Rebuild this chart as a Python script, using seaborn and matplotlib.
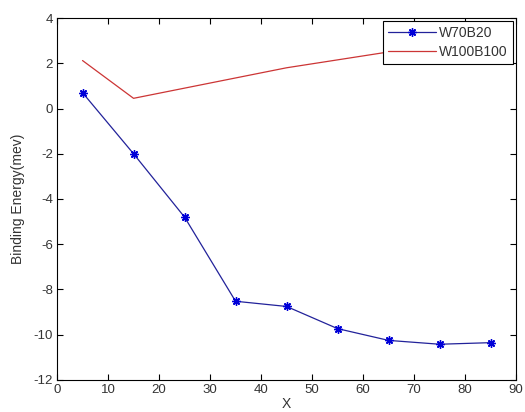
import matplotlib
matplotlib.use("Agg")
import matplotlib.pyplot as plt
import seaborn as sns
import pandas as pd

x_vals = [5, 15, 25, 35, 45, 55, 65, 75, 85]
w70b20 = [0.7, -2.0, -4.8, -8.52, -8.75, -9.73, -10.25, -10.42, -10.35]
w100b100 = [2.12, 0.45, 0.9, 1.35, 1.8, 2.15, 2.5, 2.8, 3.1]
x_ticks = [0, 10, 20, 30, 40, 50, 60, 70, 80, 90]
y_ticks = [-12, -10, -8, -6, -4, -2, 0, 2, 4]

sns.set_theme(style="white")
plt.rcParams['font.family'] = ['Liberation Sans', 'DejaVu Sans']
plt.rcParams['axes.unicode_minus'] = False

df = pd.DataFrame({"X": x_vals * 2,
                   "y": w70b20 + w100b100,
                   "series": ["W70B20"] * len(x_vals) + ["W100B100"] * len(x_vals)})

fig = plt.figure(figsize=(5.25, 4.12), dpi=100)
ax = fig.add_axes([0.1086, 0.0777, 0.8745, 0.8786])

sns.lineplot(data=df[df.series == "W70B20"], x="X", y="y", ax=ax, color="#22229a",
             marker=(8, 2, 0), markersize=6, markeredgewidth=1.0,
             markeredgecolor="#0000d8", markerfacecolor="#0000d8",
             linewidth=0.9, label="W70B20")
sns.lineplot(data=df[df.series == "W100B100"], x="X", y="y", ax=ax, color="#cc3535",
             linewidth=0.9, label="W100B100")

ax.set_xlim(0, 90)
ax.set_ylim(-12, 4)
ax.set_xticks(x_ticks)
ax.set_yticks(y_ticks)
ax.tick_params(direction="in", length=4, width=0.8, labelsize=9.5, colors="black",
               top=True, right=True, bottom=True, left=True, pad=3)
ax.tick_params(axis="x", labelcolor="#333333")
ax.tick_params(axis="y", labelcolor="#333333")
for s in ax.spines.values():
    s.set_color("black")
    s.set_linewidth(0.8)
ax.set_xlabel("X", fontsize=10, labelpad=0.5, color="#333333")
ax.set_ylabel("Binding Energy(mev)", fontsize=10, labelpad=6, color="#333333")

leg = ax.legend(loc="upper right", fontsize=10, frameon=True, fancybox=False,
                borderaxespad=0.25, handlelength=3.5, handletextpad=0.2,
                labelspacing=0.35, borderpad=0.35, framealpha=1)
leg.get_frame().set_edgecolor("black")
leg.get_frame().set_linewidth(0.8)
for t in leg.get_texts():
    t.set_color("#333333")

fig.savefig("out.png", dpi=100)
